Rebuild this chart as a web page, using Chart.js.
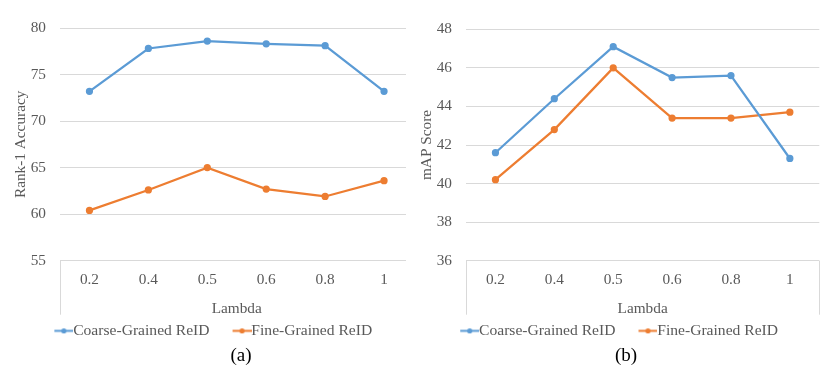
<!DOCTYPE html>
<html>
<head>
<meta charset="utf-8">
<script src="https://cdn.jsdelivr.net/npm/chart.js@4/dist/chart.umd.min.js"></script>
<style>
  html, body { margin: 0; padding: 0; background: #fff; }
  body { width: 830px; height: 378px; position: relative; overflow: hidden; }
  .wrap { position: absolute; top: 0; height: 378px; overflow: hidden; }
  .cap { position: absolute; font-family: "Liberation Serif", serif; font-size: 19px; color: #000; transform: translate(-50%, -50%); white-space: nowrap; }
</style>
</head>
<body>
<div class="wrap" style="left:0;width:406px;"><div style="width:420px;height:378px;"><canvas id="cA"></canvas></div></div>
<div class="wrap" style="left:406px;width:424px;"><div style="width:424px;height:378px;"><canvas id="cB"></canvas></div></div>
<div class="cap" style="left:241px;top:355px;">(a)</div>
<div class="cap" style="left:626px;top:355px;">(b)</div>
<script>
// ---- data ----
const lambdas = ['0.2', '0.4', '0.5', '0.6', '0.8', '1'];
const seriesNames = ['Coarse-Grained ReID', 'Fine-Grained ReID'];
const rank1Coarse = [73.2, 77.8, 78.6, 78.3, 78.1, 73.2];
const rank1Fine   = [60.4, 62.6, 65.0, 62.7, 61.9, 63.6];
const mapCoarse   = [41.6, 44.4, 47.1, 45.5, 45.6, 41.3];
const mapFine     = [40.2, 42.8, 46.0, 43.4, 43.4, 43.7];
const rank1Ticks  = {min: 55, max: 80, step: 5};
const mapTicks    = {min: 36, max: 48, step: 2};

// ---- styling ----
const BLUE = '#5B9BD5', ORANGE = '#ED7D31', GREY = '#595959', GRID = '#d9d9d9';
const FONT = 'Liberation Serif';
const FS = 15.3;
const LFS = 15.6;
const PSW = 24;                          // legend point-style box width
const MW = 19;                           // visible marker width
const IMGW = 2 * (PSW / 2 + LFS / 2);    // image width so marker ends where text starts

function marker(color) {
  const c = document.createElement('canvas');
  c.width = Math.round(IMGW); c.height = 7;
  const g = c.getContext('2d');
  const x0 = c.width - MW;
  g.strokeStyle = color; g.lineWidth = 2;
  g.beginPath(); g.moveTo(x0, 3.5); g.lineTo(c.width, 3.5); g.stroke();
  g.fillStyle = color; g.beginPath(); g.arc(x0 + MW / 2, 3.5, 2.6, 0, Math.PI * 2); g.fill();
  return c;
}
const markers = [marker(BLUE), marker(ORANGE)];

const edgeLines = {
  id: 'edgeLines',
  afterDraw(chart) {
    const {ctx, chartArea} = chart;
    ctx.save();
    ctx.strokeStyle = GRID; ctx.lineWidth = 1;
    [chartArea.left, chartArea.right].forEach(x => {
      const xx = Math.round(x) + 0.5;
      ctx.beginPath(); ctx.moveTo(xx, chartArea.bottom); ctx.lineTo(xx, chartArea.bottom + 54); ctx.stroke();
    });
    ctx.restore();
  }
};

function makeChart(id, coarse, fine, yTitle, tk, padRight, padTop) {
  return new Chart(document.getElementById(id), {
    type: 'line',
    data: {
      labels: lambdas,
      datasets: [
        {label: seriesNames[0], data: coarse, borderColor: BLUE, backgroundColor: BLUE, borderWidth: 2.25, pointRadius: 2.5, pointHoverRadius: 2.5, tension: 0},
        {label: seriesNames[1], data: fine, borderColor: ORANGE, backgroundColor: ORANGE, borderWidth: 2.25, pointRadius: 2.5, pointHoverRadius: 2.5, tension: 0}
      ]
    },
    options: {
      responsive: true,
      maintainAspectRatio: false,
      animation: false,
      devicePixelRatio: 1,
      layout: {padding: {top: padTop, right: padRight, left: 0, bottom: 29.35}},
      plugins: {
        tooltip: {enabled: false},
        legend: {
          position: 'bottom',
          labels: {
            usePointStyle: true,
            pointStyleWidth: PSW,
            boxHeight: 7,
            padding: 10,
            color: GREY,
            font: {family: FONT, size: LFS},
            generateLabels(chart) {
              const items = Chart.defaults.plugins.legend.labels.generateLabels(chart);
              items.forEach((it, i) => { it.pointStyle = markers[i]; });
              return items;
            }
          }
        }
      },
      scales: {
        x: {
          offset: true,
          grid: {display: false, drawTicks: false},
          border: {display: false},
          ticks: {color: GREY, font: {family: FONT, size: FS}, padding: 10, maxRotation: 0},
          title: {display: true, text: 'Lambda', color: GREY, font: {family: FONT, size: FS, lineHeight: 0.55}, padding: {top: 0, bottom: 0}},
          afterFit(s) { s.height = 52.35; }
        },
        y: {
          min: tk.min, max: tk.max,
          grid: {color: GRID, lineWidth: 1, drawTicks: false},
          border: {display: false},
          ticks: {stepSize: tk.step, color: GREY, font: {family: FONT, size: FS}, padding: 14},
          title: {display: true, text: yTitle, color: GREY, font: {family: FONT, size: FS, lineHeight: 1}, padding: {top: 13.4, bottom: 0}},
          afterFit(s) { s.width = 60; }
        }
      }
    },
    plugins: [edgeLines]
  });
}

makeChart('cA', rank1Coarse, rank1Fine, 'Rank-1 Accuracy', rank1Ticks, 6.5, 28);
makeChart('cB', mapCoarse, mapFine, 'mAP Score', mapTicks, 10.7, 29.3);
</script>
</body>
</html>
